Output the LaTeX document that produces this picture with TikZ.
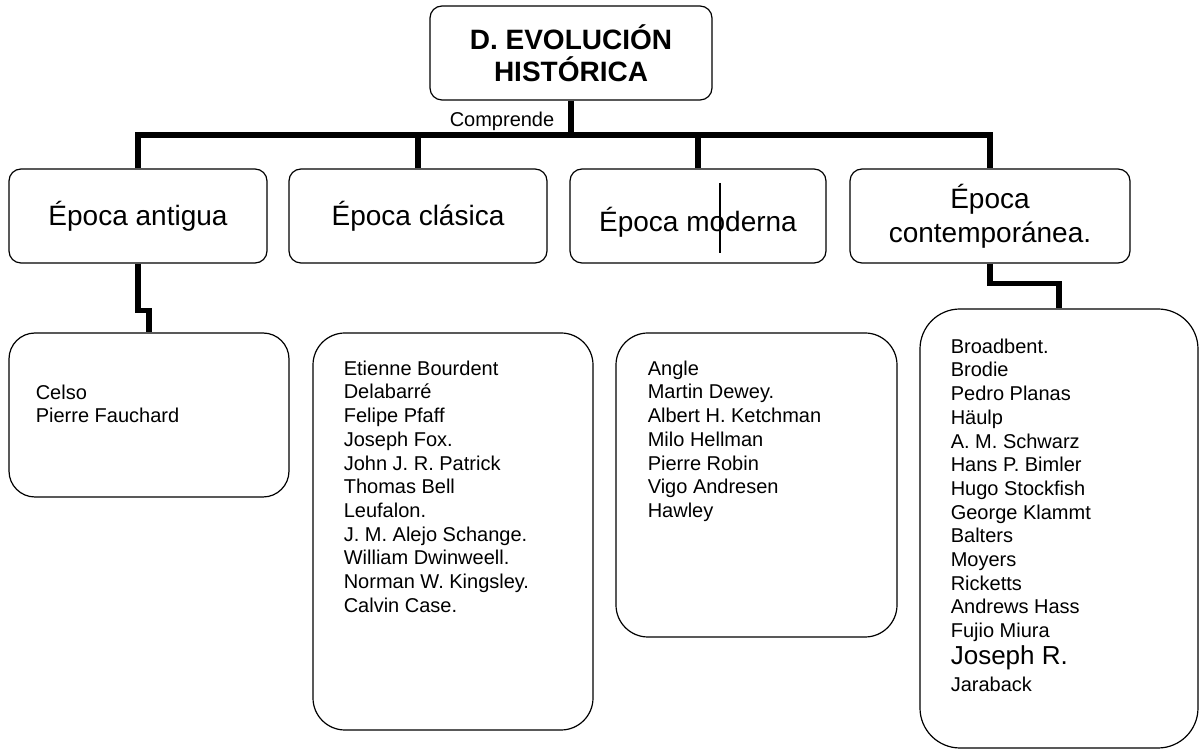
\documentclass[tikz,border=0pt]{standalone}
\usepackage{fontspec}
\setmainfont{Liberation Sans}
\usepackage{tikz}
\tikzstyle{bloque}=[draw, line width=0.6pt, rounded corners=6pt, inner sep=0pt, align=center]
\tikzstyle{tbloque}=[bloque, minimum width=141pt, minimum height=47pt, font=\fontsize{14}{16}\selectfont\bfseries]
\tikzstyle{ebloque}=[bloque, minimum width=129pt, minimum height=47pt, font=\fontsize{14}{17}\selectfont]
\tikzstyle{lbloque}=[bloque, rounded corners=16pt, minimum width=140pt]
\tikzstyle{lista}=[inner sep=0pt, anchor=north west, align=left, font=\fontsize{10}{11.85}\selectfont]
\tikzstyle{conector}=[line width=2.6pt]

\begin{document}
\begin{tikzpicture}[x=0.5pt, y=-0.5pt]
        \useasboundingbox (0,0) rectangle (1201,753);
        \node[tbloque] (titulo) at (571,53) {D. EVOLUCIÓN\\HISTÓRICA};
        \node[ebloque] (antigua) at (138,216) {Época antigua};
        \node[ebloque] (clasica) at (418,216) {Época clásica};
        \node[ebloque, minimum width=128pt] (moderna) at (698,216) {\raisebox{-3pt}[\height][\depth]{Época moderna}};
        \node[ebloque, minimum width=140pt] (contemp) at (990,216) {Época\\contemporánea.};
        \node[lbloque, rounded corners=13pt, minimum height=82pt] (lcelso) at (149,415) {};
        \node[lbloque, minimum height=198.5pt] (lclasica) at (453,531.5) {};
        \node[lbloque, minimum width=140.5pt, minimum height=152pt] (lmoderna) at (756.5,485) {};
        \node[lbloque, rounded corners=20pt, minimum width=139pt, minimum height=219.5pt] (lcontemp) at (1059,528.5) {};
        \node (comprende) at (502,121) {\fontsize{10}{12}\selectfont Comprende};
        \coordinate (bus) at (571,135);
        \draw[conector] (titulo.south) -- (titulo.south |- bus);
        \draw[conector] (antigua.north) |- (bus) -| (contemp.north);
        \draw[conector] (clasica.north) -- (clasica.north |- bus);
        \draw[conector] (moderna.north) -- (moderna.north |- bus);
        \draw[conector] (antigua.south) -- ++(0,47) -| (lcelso.north);
        \draw[conector] (contemp.south) -- ++(0,20) -| (lcontemp.north);
        \draw[line width=0.6pt] ([shift={(22,-33)}]moderna.center) -- ([shift={(22,37)}]moderna.center);
        \node[lista] (tcelso) at ([shift={(27,52)}]lcelso.north west) {Celso\\Pierre Fauchard};
        \node[lista] (tclasica) at ([shift={(31,28)}]lclasica.north west) {Etienne Bourdent\\Delabarré\\Felipe Pfaff\\Joseph Fox.\\John J. R. Patrick\\Thomas Bell\\Leufalon.\\J. M. Alejo Schange.\\William Dwinweell.\\Norman W. Kingsley.\\Calvin Case.};
        \node[lista] (tmoderna) at ([shift={(32,28)}]lmoderna.north west) {Angle\\Martin Dewey.\\Albert H. Ketchman\\Milo Hellman\\Pierre Robin\\Vigo Andresen\\Hawley};
        \node[lista] (tcontemp) at ([shift={(31,30)}]lcontemp.north west) {Broadbent.\\Brodie\\Pedro Planas\\Häulp\\A. M. Schwarz\\Hans P. Bimler\\Hugo Stockfish\\George Klammt\\Balters\\Moyers\\Ricketts\\Andrews Hass\\Fujio Miura\\[1.7pt]{\fontsize{13}{15}\selectfont Joseph R.}\\[1.7pt]Jaraback};
    \end{tikzpicture}
\end{document}
